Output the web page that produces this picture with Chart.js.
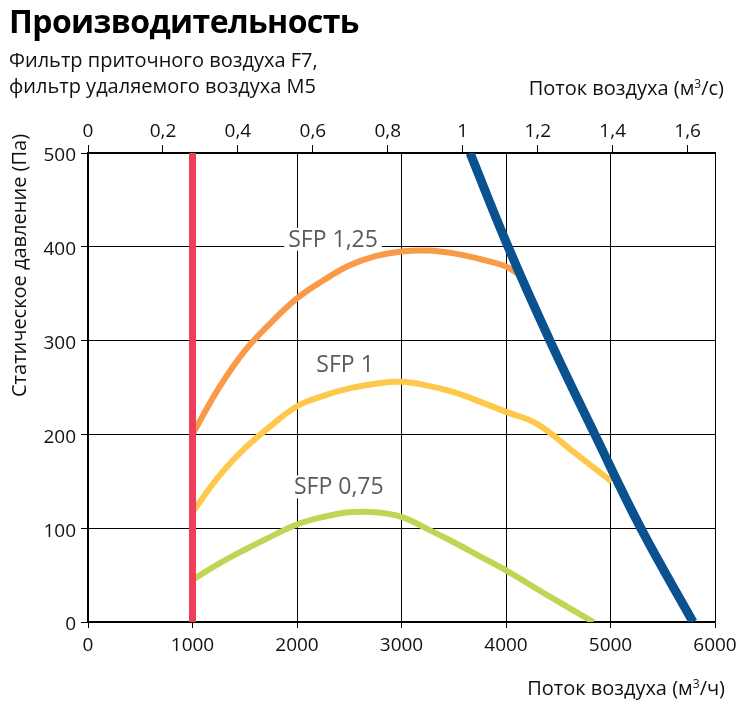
<!DOCTYPE html>
<html lang="ru">
<head>
<meta charset="utf-8">
<title>Производительность</title>
<script src="https://cdn.jsdelivr.net/npm/chart.js@4.4.1/dist/chart.umd.min.js"></script>
<style>
    body { margin: 0; background: #fff; }
    #wrap { position: relative; width: 737px; height: 711px; overflow: hidden; font-family: "Open Sans", sans-serif; color: #111; }
    #wrap canvas { position: absolute; left: 0; top: 0; }
    .txt { position: absolute; white-space: nowrap; line-height: 1; }
    #title { left: 9px; top: 5px; font-size: 32px; font-weight: 700; color: #000; letter-spacing: -0.6px; }
    #sub1 { left: 9px; top: 50px; font-size: 20px; }
    #sub2 { left: 9px; top: 76px; font-size: 20px; }
    #topTitle { right: 13px; top: 78px; font-size: 20px; }
    #bottomTitle { right: 12px; top: 678px; font-size: 20px; }
    #yTitle { left: 9px; top: 397px; font-size: 20px; transform-origin: 0 0; transform: rotate(-90deg); }
</style>
</head>
<body>
<div id="wrap">
    <canvas id="perfChart"></canvas>
    <div class="txt" id="title">Производительность</div>
    <div class="txt" id="sub1">Фильтр приточного воздуха F7,</div>
    <div class="txt" id="sub2">фильтр удаляемого воздуха M5</div>
    <div class="txt" id="topTitle">Поток воздуха (м<sup style="font-size:12px;vertical-align:7px;">3</sup>/с)</div>
    <div class="txt" id="bottomTitle">Поток воздуха (м<sup style="font-size:12px;vertical-align:7px;">3</sup>/ч)</div>
    <div class="txt" id="yTitle">Статическое давление (Па)</div>
</div>
<script>
// airflow in m3/h, static pressure in Pa
const minFlowX = [1000, 1000];
const minFlowY = [0, 500];

const fanCurveX = [3656, 4020, 4420, 4850, 5290, 5790];
const fanCurveY = [500, 400, 300, 200, 100, 0];

const sfp125X = [1000, 1250, 1500, 1750, 2000, 2250, 2500, 2750, 3000, 3250, 3500, 3750, 4000, 4130];
const sfp125Y = [200, 249, 289, 319, 345, 364, 380, 390, 395, 396, 393, 387, 379, 370];

const sfp1X = [1000, 1250, 1500, 1750, 2000, 2250, 2500, 2750, 3000, 3250, 3500, 3750, 4000, 4300, 4650, 5010];
const sfp1Y = [117, 155, 185, 209, 230, 241, 249, 254, 256, 252, 245, 235, 224, 211, 181, 150];

const sfp075X = [1000, 1250, 1500, 1750, 2000, 2250, 2500, 2750, 3000, 3250, 3500, 3750, 4000, 4420, 4836];
const sfp075Y = [45, 62, 77, 91, 104, 112, 117, 117, 112, 99, 85, 70, 55, 27, 0];

const sfpNames = ['SFP 1,25', 'SFP 1', 'SFP 0,75'];
const sfpNameX = [2345, 2460, 2400];
const sfpNameY = [400, 267, 136];

const flowHourTicks = [0, 1000, 2000, 3000, 4000, 5000, 6000];
const flowSecondMax = 1.673;
const pressureTicks = [0, 100, 200, 300, 400, 500];

const toPoints = (xs, ys) => xs.map((x, i) => ({ x: x, y: ys[i] }));

const sfpLabelPlugin = {
    id: 'sfpLabels',
    afterDatasetsDraw(chart) {
        const ctx = chart.ctx;
        const xs = chart.scales.x;
        const ys = chart.scales.y;
        ctx.save();
        ctx.font = '23px "Open Sans"';
        ctx.textAlign = 'center';
        ctx.textBaseline = 'alphabetic';
        sfpNames.forEach((name, i) => {
            const px = xs.getPixelForValue(sfpNameX[i]);
            const py = ys.getPixelForValue(sfpNameY[i]);
            const w = ctx.measureText(name).width;
            ctx.fillStyle = '#fff';
            ctx.fillRect(px - w / 2 - 4, py - 19, w + 8, 23);
            ctx.fillStyle = '#585c62';
            ctx.fillText(name, px, py);
        });
        ctx.restore();
    }
};

const tickFont = { family: '"Open Sans"', size: 19 };

const lineStyle = (color, width) => ({
    borderColor: color,
    backgroundColor: color,
    borderWidth: width,
    pointRadius: 0,
    showLine: true,
    fill: false,
    tension: 0.4,
    borderCapStyle: 'butt'
});

// keep the plot area fixed: ignore the extra room Chart.js reserves for edge labels
const noEdgePadding = (scale) => {
    scale.paddingLeft = 0;
    scale.paddingRight = 0;
    scale.paddingTop = 0;
    scale.paddingBottom = 0;
};

const ctx = document.getElementById('perfChart').getContext('2d');
new Chart(ctx, {
    type: 'scatter',
    data: {
        datasets: [
            { label: 'min', data: toPoints(minFlowX, minFlowY), ...lineStyle('#ef3d5a', 7), tension: 0 },
            { label: 'fan', data: toPoints(fanCurveX, fanCurveY), ...lineStyle('#0a518f', 9) },
            { label: 'SFP 1,25', data: toPoints(sfp125X, sfp125Y), ...lineStyle('#f99a48', 6) },
            { label: 'SFP 1', data: toPoints(sfp1X, sfp1Y), ...lineStyle('#fec94b', 6) },
            { label: 'SFP 0,75', data: toPoints(sfp075X, sfp075Y), ...lineStyle('#bfd655', 6) }
        ]
    },
    options: {
        responsive: true,
        maintainAspectRatio: false,
        animation: false,
        layout: { padding: { left: 0, right: 22, top: 0, bottom: 0 } },
        plugins: {
            legend: { display: false },
            tooltip: { enabled: false }
        },
        scales: {
            x: {
                type: 'linear',
                position: 'bottom',
                min: flowHourTicks[0],
                max: flowHourTicks[flowHourTicks.length - 1],
                afterBuildTicks: (scale) => { scale.ticks = flowHourTicks.map(v => ({ value: v })); },
                afterFit: (scale) => { scale.height = 89; noEdgePadding(scale); },
                ticks: { font: tickFont, color: '#111', padding: 6, maxRotation: 0, callback: v => String(v) },
                grid: { color: '#000', lineWidth: 1, tickLength: 6, tickColor: '#000' },
                border: { display: true, color: '#000', width: 1.3 }
            },
            xTop: {
                type: 'linear',
                position: 'top',
                min: 0,
                max: flowSecondMax,
                afterFit: (scale) => { scale.height = 153; noEdgePadding(scale); },
                ticks: {
                    stepSize: 0.2,
                    includeBounds: false,
                    font: tickFont,
                    color: '#111',
                    padding: 2,
                    maxRotation: 0,
                    callback: v => String(Math.round(v * 10) / 10).replace('.', ',')
                },
                grid: { drawOnChartArea: false, color: '#000', lineWidth: 1, tickLength: 8, tickColor: '#000' },
                border: { display: true, color: '#000', width: 1.3 }
            },
            y: {
                type: 'linear',
                min: pressureTicks[0],
                max: pressureTicks[pressureTicks.length - 1],
                afterBuildTicks: (scale) => { scale.ticks = pressureTicks.map(v => ({ value: v })); },
                afterFit: (scale) => { scale.width = 88; noEdgePadding(scale); },
                ticks: { font: tickFont, color: '#111', padding: 5, labelOffset: 3 },
                grid: { color: '#000', lineWidth: 1, tickLength: 7, tickColor: '#000' },
                border: { display: true, color: '#000', width: 1.3 }
            }
        }
    },
    plugins: [sfpLabelPlugin]
});
</script>
</body>
</html>
